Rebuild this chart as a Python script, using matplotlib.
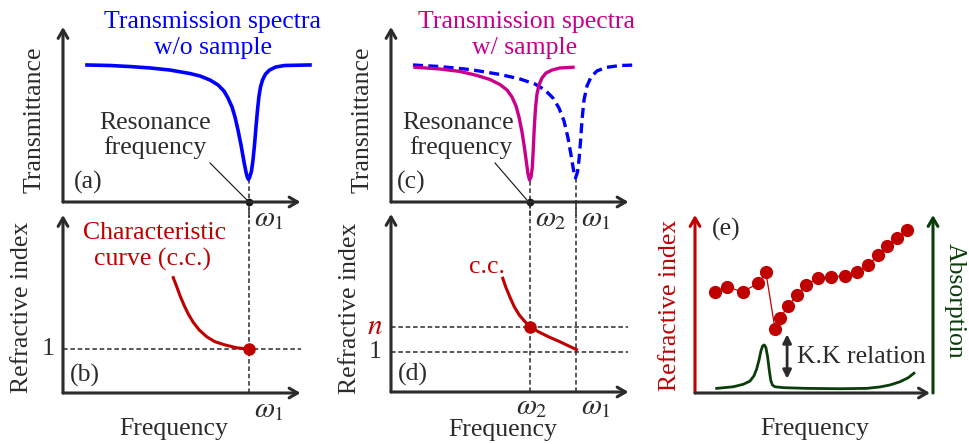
import matplotlib
matplotlib.use("Agg")
import matplotlib.pyplot as plt

plt.rcParams["font.family"] = ["Liberation Serif", "DejaVu Serif"]
plt.rcParams["mathtext.fontset"] = "stix"

# ---- data (arbitrary units: frequency 0-10, normalised vertical 0-1) ----
w1 = 7.42
w2 = 5.55

# (a) transmission without sample
freq_a = [0.96, 1.88, 2.68, 3.48, 4.28, 5.08, 5.48, 5.88, 6.20, 6.44, 6.60, 6.76,
          6.88, 7.00, 7.12, 7.24, 7.32, 7.37, 7.42, 7.47, 7.54, 7.60, 7.66, 7.72,
          7.78, 7.84, 7.90, 7.98, 8.10, 8.26, 8.50, 8.86, 9.88]
trans_a = [0.783, 0.780, 0.774, 0.766, 0.754, 0.734, 0.720, 0.697, 0.669, 0.634,
           0.594, 0.543, 0.486, 0.411, 0.326, 0.229, 0.171, 0.143, 0.129, 0.143,
           0.177, 0.240, 0.326, 0.429, 0.526, 0.606, 0.657, 0.697, 0.731, 0.754,
           0.771, 0.780, 0.783]

# (c) transmission with sample (magenta) and reference (dashed blue)
freq_c = [0.96, 1.96, 2.76, 3.44, 3.96, 4.36, 4.64, 4.84, 5.00, 5.12, 5.24, 5.34,
          5.42, 5.48, 5.54, 5.60, 5.65, 5.69, 5.73, 5.78, 5.84, 5.92, 6.04, 6.20,
          6.44, 6.76, 7.28]
trans_c = [0.770, 0.760, 0.746, 0.723, 0.700, 0.671, 0.640, 0.600, 0.549, 0.486,
           0.400, 0.309, 0.223, 0.160, 0.126, 0.143, 0.194, 0.297, 0.423, 0.537,
           0.617, 0.669, 0.709, 0.737, 0.754, 0.766, 0.770]
freq_ref = [0.88, 1.96, 3.16, 4.36, 5.16, 5.76, 6.16, 6.48, 6.72, 6.92, 7.08, 7.20,
            7.30, 7.38, 7.46, 7.52, 7.58, 7.64, 7.72, 7.84, 8.00, 8.24, 8.60, 9.16,
            9.84]
trans_ref = [0.783, 0.774, 0.757, 0.729, 0.703, 0.674, 0.640, 0.594, 0.537, 0.463,
             0.366, 0.269, 0.183, 0.137, 0.171, 0.240, 0.343, 0.469, 0.583, 0.663,
             0.714, 0.749, 0.769, 0.780, 0.783]

# (b) characteristic curve
freq_b = [4.41, 4.55, 4.68, 4.84, 5.01, 5.21, 5.45, 5.75, 6.08, 6.48, 6.95, 7.42]
n_b = [0.648, 0.597, 0.547, 0.494, 0.444, 0.397, 0.354, 0.316, 0.288, 0.270,
       0.254, 0.247]
one_b = 0.247

# (d) characteristic curve, shifted
freq_d = [4.47, 4.60, 4.76, 4.93, 5.13, 5.36, 5.59, 5.89, 6.29, 6.76, 7.42]
n_d = [0.639, 0.586, 0.532, 0.479, 0.433, 0.395, 0.365, 0.339, 0.311, 0.282, 0.238]
n_level = 0.367
one_d = 0.223

# (e) measured refractive index and absorption
freq_e = [0.84, 1.36, 2.00, 2.66, 2.98, 3.36, 3.57, 3.92, 4.30, 4.66, 5.18, 5.73,
          6.30, 6.79, 7.28, 7.70, 8.05, 8.47, 8.92]
n_e = [0.566, 0.594, 0.569, 0.616, 0.678, 0.360, 0.420, 0.490, 0.551, 0.607,
       0.644, 0.653, 0.657, 0.678, 0.719, 0.775, 0.826, 0.872, 0.916]
freq_abs = [0.91, 1.61, 2.03, 2.31, 2.48, 2.59, 2.69, 2.77, 2.84, 2.91, 2.98, 3.05,
            3.12, 3.18, 3.25, 3.36, 3.71, 4.69, 6.09, 7.21, 7.77, 8.19, 8.61, 8.96,
            9.20]
absorp = [0.026, 0.035, 0.049, 0.067, 0.097, 0.135, 0.185, 0.236, 0.264, 0.270,
          0.255, 0.204, 0.129, 0.073, 0.045, 0.035, 0.030, 0.026, 0.024, 0.026,
          0.034, 0.045, 0.063, 0.086, 0.111]

TXT = "#2b2b2b"
BLUE = "#0000ff"
MAG = "#c8008c"
RED = "#c00000"
GREEN = "#0a3d0a"
FS = 18.5
FW = 21  # omega labels

W, H = 969, 444
fig = plt.figure(figsize=(W / 100, H / 100), dpi=100)


def make_ax(left, top, w, h):
    ax = fig.add_axes([left / W, 1 - (top + h) / H, w / W, h / H])
    ax.set_xlim(0, 10)
    ax.set_ylim(0, 1)
    ax.axis("off")
    return ax


def arrow(ax, x0, y0, x1, y1, color=TXT, lw=2.2):
    ax.annotate("", xy=(x1, y1), xytext=(x0, y0),
                arrowprops=dict(arrowstyle="->,head_length=0.6,head_width=0.35",
                                lw=lw, color=color, shrinkA=0, shrinkB=0),
                annotation_clip=False)


def axes_arrows(ax):
    arrow(ax, 0, 0, 0, 1.0)
    arrow(ax, 0, 0, 9.5, 0)


def guide(ax, xs, ys):
    ax.plot(xs, ys, color=TXT, lw=1.1, ls=(0, (3, 1.8)), clip_on=False)


ax_a = make_ax(63, 27, 250, 175)
ax_b = make_ax(63, 215, 250, 178)
ax_c = make_ax(391, 27, 250, 175)
ax_d = make_ax(391, 214, 250, 178)
ax_e = make_ax(695, 215, 238, 178)

# ---- (a) ----
axes_arrows(ax_a)
guide(ax_a, [w1, w1], [0.131, -0.09])
ax_a.plot(freq_a, trans_a, color=BLUE, lw=2.6, clip_on=False)
ax_a.plot([w1], [0], "o", color="#111111", ms=4.5, clip_on=False)
ax_a.text(6.0, 1.03, "Transmission spectra", color=BLUE, fontsize=FS, ha="center", va="center")
ax_a.text(6.0, 0.88, "w/o sample", color=BLUE, fontsize=FS, ha="center", va="center")
ax_a.text(-1.12, 0.47, "Transmittance", color=TXT, fontsize=FS, rotation=90, ha="center", va="center")
ax_a.text(3.68, 0.45, "Resonance", color=TXT, fontsize=FS, ha="center", va="center")
ax_a.text(3.68, 0.31, "frequency", color=TXT, fontsize=FS, ha="center", va="center")
ax_a.plot([5.88, 7.36], [0.223, 0.011], color="#111111", lw=0.8)
ax_a.text(1.0, 0.11, "(a)", color=TXT, fontsize=FS, ha="center", va="center")
ax_a.text(w1 + 0.2, -0.10, r"$\omega_1$", color=TXT, fontsize=FW, ha="left", va="center")

# ---- (b) ----
axes_arrows(ax_b)
guide(ax_b, [w1, w1], [0, 1.06])
guide(ax_b, [0, 9.5], [one_b, one_b])
ax_b.plot(freq_b, n_b, color=RED, lw=2.2)
ax_b.plot([w1], [one_b], "o", color=RED, ms=8, clip_on=False)
ax_b.text(3.68, 0.90, "Characteristic", color=RED, fontsize=FS, ha="center", va="center")
ax_b.text(3.58, 0.75, "curve (c.c.)", color=RED, fontsize=FS, ha="center", va="center")
ax_b.text(-1.64, 0.48, "Refractive index", color=TXT, fontsize=FS, rotation=90, ha="center", va="center")
ax_b.text(-0.6, one_b, "1", color=TXT, fontsize=FS, ha="center", va="center")
ax_b.text(0.88, 0.10, "(b)", color=TXT, fontsize=FS, ha="center", va="center")
ax_b.text(w1 + 0.2, -0.095, r"$\omega_1$", color=TXT, fontsize=FW, ha="left", va="center")
ax_b.text(4.44, -0.205, "Frequency", color=TXT, fontsize=FS, ha="center", va="center")

# ---- (c) ----
axes_arrows(ax_c)
guide(ax_c, [w2, w2], [0.12, -0.09])
guide(ax_c, [w1, w1], [0.137, -0.09])
ax_c.plot(freq_ref, trans_ref, color=BLUE, lw=2.4, ls=(0, (3, 1.6)), clip_on=False)
ax_c.plot(freq_c, trans_c, color=MAG, lw=2.4)
ax_c.plot([w2], [0], "o", color="#111111", ms=4.5, clip_on=False)
ax_c.text(5.43, 1.03, "Transmission spectra", color=MAG, fontsize=FS, ha="center", va="center")
ax_c.text(5.36, 0.88, "w/ sample", color=MAG, fontsize=FS, ha="center", va="center")
ax_c.text(-1.12, 0.47, "Transmittance", color=TXT, fontsize=FS, rotation=90, ha="center", va="center")
ax_c.text(2.69, 0.45, "Resonance", color=TXT, fontsize=FS, ha="center", va="center")
ax_c.text(2.79, 0.31, "frequency", color=TXT, fontsize=FS, ha="center", va="center")
ax_c.plot([4.16, 5.44], [0.223, 0.011], color="#111111", lw=0.8)
ax_c.text(0.79, 0.11, "(c)", color=TXT, fontsize=FS, ha="center", va="center")
ax_c.text(w2 + 0.22, -0.10, r"$\omega_2$", color=TXT, fontsize=FW, ha="left", va="center")
ax_c.text(w1 + 0.2, -0.10, r"$\omega_1$", color=TXT, fontsize=FW, ha="left", va="center")

# ---- (d) ----
axes_arrows(ax_d)
guide(ax_d, [w2, w2], [0, 1.07])
guide(ax_d, [w1, w1], [0, 1.07])
guide(ax_d, [0, 9.5], [n_level, n_level])
guide(ax_d, [0, 9.5], [one_d, one_d])
ax_d.plot(freq_d, n_d, color=RED, lw=2.2)
ax_d.plot([w2], [n_level], "o", color=RED, ms=8)
ax_d.text(3.86, 0.70, "c.c.", color=RED, fontsize=FS, ha="center", va="center")
ax_d.text(-1.64, 0.47, "Refractive index", color=TXT, fontsize=FS, rotation=90, ha="center", va="center")
ax_d.text(-0.64, n_level, "$n$", color=RED, fontsize=FW, ha="center", va="center")
ax_d.text(-0.64, one_d, "1", color=TXT, fontsize=FS, ha="center", va="center")
ax_d.text(0.89, 0.096, "(d)", color=TXT, fontsize=FS, ha="center", va="center")
ax_d.text(w2 + 0.1, -0.085, r"$\omega_2$", color=TXT, fontsize=FW, ha="center", va="center")
ax_d.text(w1 + 0.2, -0.085, r"$\omega_1$", color=TXT, fontsize=FW, ha="left", va="center")
ax_d.text(4.46, -0.215, "Frequency", color=TXT, fontsize=FS, ha="center", va="center")

# ---- (e) ----
arrow(ax_e, 0, 0, 0, 1.0, color=RED)
arrow(ax_e, 10, 0, 10, 1.0, color=GREEN)
arrow(ax_e, 0, 0, 9.87, 0)
ax_e.plot(freq_e, n_e, color=RED, lw=0.9, marker="o", ms=8.5, mec=RED, mfc=RED)
ax_e.plot(freq_abs, absorp, color=GREEN, lw=2.0)
ax_e.annotate("", xy=(3.87, 0.33), xytext=(3.87, 0.08),
              arrowprops=dict(arrowstyle="<|-|>,head_length=0.5,head_width=0.25",
                              lw=2.0, color=TXT, shrinkA=0, shrinkB=0))
ax_e.text(4.27, 0.204, "K.K relation", color=TXT, fontsize=FS, ha="left", va="center")
ax_e.text(1.33, 0.92, "(e)", color=TXT, fontsize=FS, ha="center", va="center")
ax_e.text(-1.05, 0.49, "Refractive index", color=RED, fontsize=FS, rotation=90, ha="center", va="center")
ax_e.text(10.92, 0.52, "Absorption", color=GREEN, fontsize=FS, rotation=-90, ha="center", va="center")
ax_e.text(5.04, -0.20, "Frequency", color=TXT, fontsize=FS, ha="center", va="center")

fig.savefig("out.png", dpi=100)
